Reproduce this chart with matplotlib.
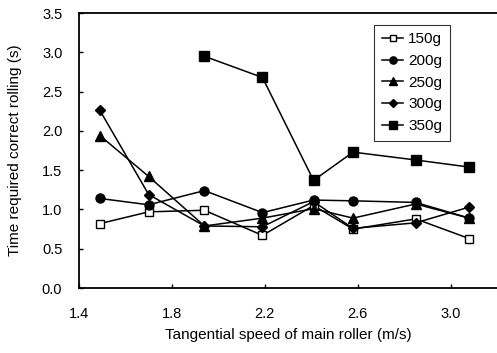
import matplotlib
matplotlib.use("Agg")
import matplotlib.pyplot as plt

plt.rcParams['font.family'] = ['Liberation Sans', 'DejaVu Sans']

speeds = [1.49, 1.70, 1.94, 2.19, 2.41, 2.58, 2.85, 3.08]
s150 = [0.82, 0.97, 0.99, 0.67, 1.05, 0.75, 0.88, 0.63]
s200 = [1.14, 1.06, 1.24, 0.96, 1.12, 1.11, 1.09, 0.89]
s250 = [1.94, 1.42, 0.79, 0.89, 1.01, 0.89, 1.07, 0.89]
s300 = [2.26, 1.19, 0.79, 0.78, 1.10, 0.76, 0.83, 1.03]
speeds350 = [1.94, 2.19, 2.41, 2.58, 2.85, 3.08]
s350 = [2.95, 2.68, 1.37, 1.73, 1.63, 1.54]
labels = ['150g', '200g', '250g', '300g', '350g']

fig = plt.figure(figsize=(4.97, 3.53), dpi=100)
ax = fig.add_axes([0.159, 0.184, 0.841, 0.779])

kw = dict(color='black', lw=1.1)
ax.plot(speeds, s150, marker='s', ms=6, mfc='white', mec='black', mew=1.0, label=labels[0], **kw)
ax.plot(speeds, s200, marker='o', ms=6.5, mfc='black', mec='black', label=labels[1], **kw)
ax.plot(speeds, s250, marker='^', ms=6.5, mfc='black', mec='black', label=labels[2], **kw)
ax.plot(speeds, s300, marker='D', ms=5, mfc='black', mec='black', label=labels[3], **kw)
ax.plot(speeds350, s350, marker='s', ms=6.5, mfc='black', mec='black', label=labels[4], **kw)

ax.set_xlim(1.4, 3.2)
ax.set_ylim(0, 3.5)
ax.set_xticks([1.4, 1.8, 2.2, 2.6, 3.0])
ax.set_xticklabels(['1.4', '1.8', '2.2', '2.6', '3.0'])
ax.set_yticks([0, 0.5, 1.0, 1.5, 2.0, 2.5, 3.0, 3.5])
ax.set_yticklabels(['0.0', '0.5', '1.0', '1.5', '2.0', '2.5', '3.0', '3.5'])
ax.tick_params(direction='in', length=3, width=1, labelsize=10.5)
ax.tick_params(axis='x', pad=14)
ax.tick_params(axis='y', pad=12)
ax.spines['right'].set_visible(False)
for s in ['left', 'bottom', 'top']:
    ax.spines[s].set_linewidth(1.3)

ax.set_xlabel('Tangential speed of main roller (m/s)', fontsize=11, labelpad=5)
ax.set_ylabel('Time required correct rolling (s)', fontsize=11, labelpad=14)

leg = ax.legend(loc='upper right', bbox_to_anchor=(0.905, 0.985), fontsize=11,
                handlelength=1.4, handletextpad=0.3, frameon=True, fancybox=False,
                borderpad=0.5, labelspacing=0.5, markerscale=0.8)
leg.get_frame().set_edgecolor('black')
leg.get_frame().set_linewidth(0.8)

fig.savefig('out.png', dpi=100)
